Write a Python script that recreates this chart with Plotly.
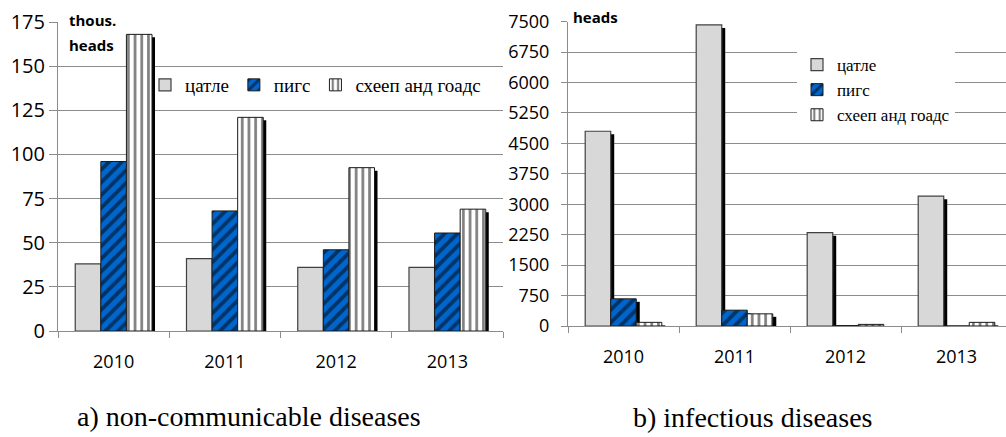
import plotly.graph_objects as go

years = ["2010", "2011", "2012", "2013"]
series_names = ["цатле", "пигс", "схееп анд гоадс"]

nc_cattle = [38, 41, 36, 36]
nc_pigs = [96, 68, 46, 55.5]
nc_sheep = [168, 121, 92.5, 69]

inf_cattle = [4800, 7420, 2300, 3200]
inf_pigs = [670, 390, 10, 0]
inf_sheep = [90, 300, 40, 90]

nc_ticks = list(range(0, 176, 25))
inf_ticks = list(range(0, 7501, 750))

W, H = 1006, 437
GRID = "#8c8c8c"
SERIF = "Liberation Serif, Times New Roman, serif"
LTICK = dict(family="Open Sans", size=20, color="black")
RTICK = dict(family="Open Sans", size=18, color="black")
XTICK = dict(family="Open Sans", size=18, color="black")

styles = [
    dict(color="#d8d8d8", line=dict(color="#404040", width=1.2)),
    dict(color="#0066cc", line=dict(color="#1a1a1a", width=1),
         pattern=dict(shape="/", fgcolor="black", bgcolor="#0066cc", size=9, solidity=0.42)),
    dict(color="white", line=dict(color="#1a1a1a", width=1),
         pattern=dict(shape="|", fgcolor="black", bgcolor="white", size=6.7, solidity=0.4)),
]

fig = go.Figure()

def add_chart(data, shadow_ax, main_ax, legend_id):
    sx, sy = shadow_ax
    mx, my = main_ax
    for vals in data:
        fig.add_trace(go.Bar(x=years, y=vals, xaxis=sx, yaxis=sy,
                             marker=dict(color="black", line=dict(width=0)),
                             showlegend=False, hoverinfo="skip"))
    for name, vals, st in zip(series_names, data, styles):
        fig.add_trace(go.Bar(x=years, y=vals, xaxis=mx, yaxis=my, name=name,
                             marker=st, legend=legend_id))

add_chart([nc_cattle, nc_pigs, nc_sheep], ("x", "y"), ("x2", "y2"), "legend")
add_chart([inf_cattle, inf_pigs, inf_sheep], ("x3", "y3"), ("x4", "y4"), "legend2")

L_xd = [58 / W, 503 / W]
L_yd = [1 - 331 / H, 1 - 22 / H]
R_xd = [568 / W, 1.0]
R_yd = [1 - 326 / H, 1 - 21.7 / H]

L_xr = [-0.5, 3.5]
R_xr = [-0.5, 3.446]
L_yr = [0, 175]
R_yr = [0, 7500]

L_dx = 3 / ((L_xd[1] - L_xd[0]) * W / 4)
R_dx = 3.5 / ((R_xd[1] - R_xd[0]) * W / (R_xr[1] - R_xr[0]))
L_dy = 3 * 175 / ((L_yd[1] - L_yd[0]) * H)
R_dy = 3 * 7500 / ((R_yd[1] - R_yd[0]) * H)

hidden = dict(visible=False, showgrid=False, zeroline=False, fixedrange=True, automargin=False)

def xmain(domain, rng, overlay, anchor):
    return dict(domain=domain, range=rng, overlaying=overlay, anchor=anchor, type="category",
                showline=True, linecolor=GRID, linewidth=1, ticks="outside", tickson="boundaries",
                ticklen=6, tickcolor=GRID, showgrid=False, zeroline=False, automargin=False,
                tickfont=XTICK, ticklabelstandoff=14, fixedrange=True)

def ymain(domain, rng, overlay, anchor, tv, standoff, font, ticklen):
    return dict(domain=domain, range=rng, overlaying=overlay, anchor=anchor,
                tickvals=tv, showline=True, linecolor=GRID, linewidth=1,
                ticks="outside", ticklen=ticklen, tickcolor=GRID, automargin=False,
                showgrid=True, gridcolor=GRID, gridwidth=1, zeroline=False,
                tickfont=font, ticklabelstandoff=standoff, fixedrange=True)

fig.update_layout(
    width=W, height=H, autosize=False,
    margin=dict(l=0, r=0, t=0, b=0, pad=0, autoexpand=False),
    paper_bgcolor="white", plot_bgcolor="rgba(0,0,0,0)",
    barmode="group", bargap=0.31, bargroupgap=0,
    xaxis=dict(domain=L_xd, range=[L_xr[0] - L_dx, L_xr[1] - L_dx], anchor="y", type="category", **hidden),
    yaxis=dict(domain=L_yd, range=[L_yr[0] + L_dy, L_yr[1] + L_dy], anchor="x", **hidden),
    xaxis2=xmain(L_xd, L_xr, "x", "y2"),
    yaxis2=ymain(L_yd, L_yr, "y", "x2", nc_ticks, 0, LTICK, 8),
    xaxis3=dict(domain=R_xd, range=[R_xr[0] - R_dx, R_xr[1] - R_dx], anchor="y3", type="category", **hidden),
    yaxis3=dict(domain=R_yd, range=[R_yr[0] + R_dy, R_yr[1] + R_dy], anchor="x3", **hidden),
    xaxis4=xmain(R_xd, R_xr, "x3", "y4"),
    yaxis4=ymain(R_yd, R_yr, "y3", "x4", inf_ticks, 8, RTICK, 6),
    legend=dict(orientation="h", x=145 / W, xanchor="left", y=1 - 66 / H, yanchor="top",
                bgcolor="rgba(0,0,0,0)", font=dict(family=SERIF, size=19, color="black"),
                itemclick=False, itemdoubleclick=False),
    legend2=dict(orientation="v", x=797 / W, xanchor="left", y=1 - 47 / H, yanchor="top",
                 bgcolor="white", font=dict(family=SERIF, size=17, color="black"),
                 itemclick=False, itemdoubleclick=False, tracegroupgap=0),
    showlegend=True,
)

bold = dict(family="Open Sans", size=15, color="black", weight="bold")
serif = dict(family=SERIF, size=28, color="black")
anns = [
    dict(text="thous.", x=67 / W, y=1 - 20 / H, font=bold, xanchor="left", yanchor="middle"),
    dict(text="heads", x=67 / W, y=1 - 45 / H, font=bold, xanchor="left", yanchor="middle"),
    dict(text="heads", x=571 / W, y=1 - 17 / H, font=bold, xanchor="left", yanchor="middle"),
    dict(text="a) non-communicable diseases", x=249 / W, y=1 - 416 / H, font=serif,
         xanchor="center", yanchor="middle"),
    dict(text="b) infectious diseases", x=753 / W, y=1 - 417 / H, font=serif,
         xanchor="center", yanchor="middle"),
]
for a in anns:
    fig.add_annotation(xref="paper", yref="paper", showarrow=False, **a)

fig.write_html("out.html", config={"displayModeBar": False},
               post_script="document.body.style.margin='0';document.body.style.overflow='hidden';")
